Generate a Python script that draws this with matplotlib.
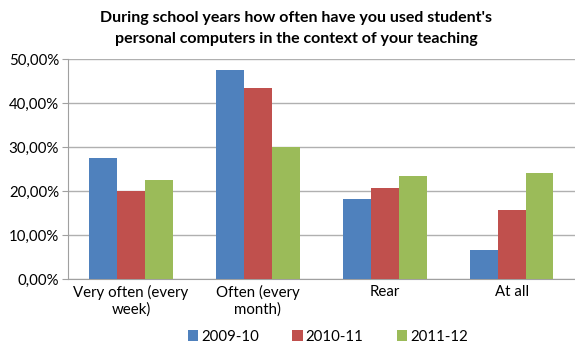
import numpy as np
import matplotlib
matplotlib.use('Agg')
import matplotlib.pyplot as plt
from matplotlib.ticker import FuncFormatter

categories = ["Very often (every\nweek)", "Often (every\nmonth)", "Rear", "At all"]
years = ["2009-10", "2010-11", "2011-12"]
v_2009 = [27.6, 47.6, 18.3, 6.7]
v_2010 = [20.0, 43.5, 20.7, 15.7]
v_2011 = [22.6, 30.1, 23.4, 24.2]
colors = ["#4F81BD", "#C0504D", "#9BBB59"]

plt.rcParams['font.family'] = ['Lato', 'DejaVu Sans']

fig = plt.figure(figsize=(5.75, 3.52), dpi=100)
ax = fig.add_axes([0.1174, 0.2065, 0.8826, 0.625])

x = np.arange(len(categories))
w = 0.22
for i, (vals, lab) in enumerate(zip([v_2009, v_2010, v_2011], years)):
  ax.bar(x + (i - 1) * w, vals, w, color=colors[i], label=lab, zorder=3)

ax.set_xlim(-0.5, len(categories) - 0.5)
ax.set_ylim(0, 50)
ax.set_yticks(np.arange(0, 51, 10))
ax.yaxis.set_major_formatter(FuncFormatter(lambda v, p: ("%.2f%%" % v).replace(".", ",")))
ax.grid(axis='y', color="#b0b0b0", linewidth=1, zorder=0)

ax.set_xticks(x)
ax.set_xticklabels(categories, fontsize=10.8, linespacing=1.2)
ax.tick_params(axis='x', length=0, pad=4)
ax.tick_params(axis='y', labelsize=10.8, length=4, color="#a0a0a0", pad=2)

ax.spines['top'].set_visible(False)
ax.spines['right'].set_visible(False)
ax.spines['left'].set_color("#a0a0a0")
ax.spines['bottom'].set_color("#a0a0a0")

fig.text(0.515, 0.97, "During school years how often have you used student's\npersonal computers in the context of your teaching",
         ha="center", va="top", fontsize=11.5, fontweight="bold", linespacing=1.65)

fig.legend(loc="lower center", bbox_to_anchor=(0.57, -0.015), ncol=3, frameon=False,
           fontsize=10.8, handlelength=0.7, handleheight=0.7, handletextpad=0.2,
           columnspacing=2.2)

fig.savefig("out.png", dpi=100)
